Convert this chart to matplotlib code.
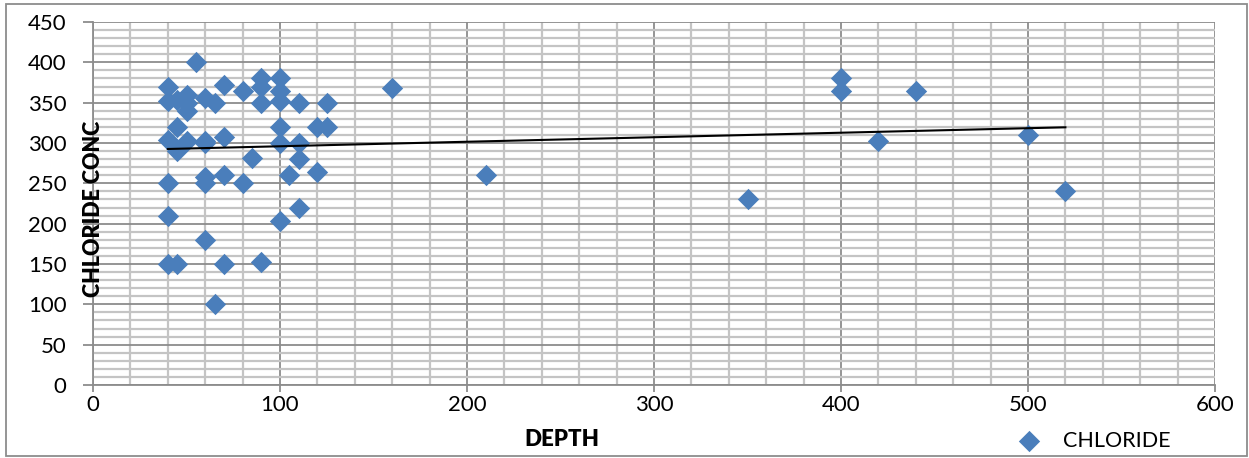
import numpy as np
import matplotlib.pyplot as plt
from matplotlib.patches import Rectangle
from matplotlib.ticker import MultipleLocator

# depth (x) and chloride concentration (y)
depth = [40, 40, 40, 40, 40, 40,
         45, 45, 45, 45,
         50, 50, 50, 50,
         55,
         60, 60, 60, 60, 60, 60,
         65, 65,
         70, 70, 70, 70,
         80, 80,
         85,
         90, 90, 90, 90,
         100, 100, 100, 100, 100, 100,
         105,
         110, 110, 110, 110,
         120, 120,
         125, 125,
         160, 210, 350, 400, 400, 420, 440, 500, 520]
chloride = [370, 352, 304, 250, 210, 150,
            353, 320, 290, 150,
            360, 340, 303, 350,
            400,
            356, 303, 300, 258, 250, 180,
            350, 100,
            372, 307, 260, 150,
            364, 250,
            282,
            380, 370, 350, 152,
            380, 364, 352, 320, 300, 203,
            260,
            350, 300, 280, 220,
            320, 264,
            350, 320,
            368, 260, 230, 380, 364, 302, 364, 310, 240]

x = np.array(depth, dtype=float)
y = np.array(chloride, dtype=float)

plt.rcParams['font.family'] = ['Lato', 'DejaVu Sans']

fig = plt.figure(figsize=(12.49, 4.58), dpi=100)
ax = fig.add_axes([93 / 1249, 1 - 385 / 458, (1215 - 93) / 1249, (385 - 22) / 458])

ax.scatter(x, y, marker='D', s=118, color='#4A7EBB', linewidths=0, zorder=3, label='CHLORIDE')

# linear trendline
k, b = np.polyfit(x, y, 1)
xt = np.array([x.min(), x.max()])
ax.plot(xt, k * xt + b, color='black', lw=1.5, zorder=4)

ax.set_xlim(0, 600)
ax.set_ylim(0, 450)
ax.xaxis.set_major_locator(MultipleLocator(100))
ax.xaxis.set_minor_locator(MultipleLocator(20))
ax.yaxis.set_major_locator(MultipleLocator(50))
ax.yaxis.set_minor_locator(MultipleLocator(10))

ax.grid(which='minor', color='#C4C4C4', lw=1.6, zorder=0)
ax.grid(which='major', color='#8C8C8C', lw=1.3, zorder=1)
ax.set_axisbelow(True)

for s in ['top', 'right']:
    ax.spines[s].set_visible(False)
for s in ['left', 'bottom']:
    ax.spines[s].set_color('#8C8C8C')
    ax.spines[s].set_linewidth(1.3)

ax.tick_params(which='minor', length=0)
ax.tick_params(axis='y', which='major', length=7, width=1.3, color='#8C8C8C',
               pad=12, labelsize=16)
ax.tick_params(axis='x', which='major', length=5, width=1.3, color='#8C8C8C',
               pad=2, labelsize=16)

fig.text(94 / 1249, 1 - 209 / 458, 'CHLORIDE CONC', rotation=90, fontsize=15.5,
         fontweight='heavy', ha='center', va='center')
fig.text(562 / 1249, 1 - 439 / 458, 'DEPTH', fontsize=16, fontweight='heavy',
         ha='center', va='center')

fig.legend(loc='center left', bbox_to_anchor=(1012 / 1249, 1 - 441 / 458),
           frameon=False, fontsize=15.5, handletextpad=0.75, handlelength=1.6,
           borderpad=0, borderaxespad=0)

fig.patches.append(Rectangle((6 / 1249, 2 / 458), 1241 / 1249, 452 / 458,
                             transform=fig.transFigure, fill=False,
                             edgecolor='#8C8C8C', lw=1.3))

fig.savefig('out.png', dpi=100)
